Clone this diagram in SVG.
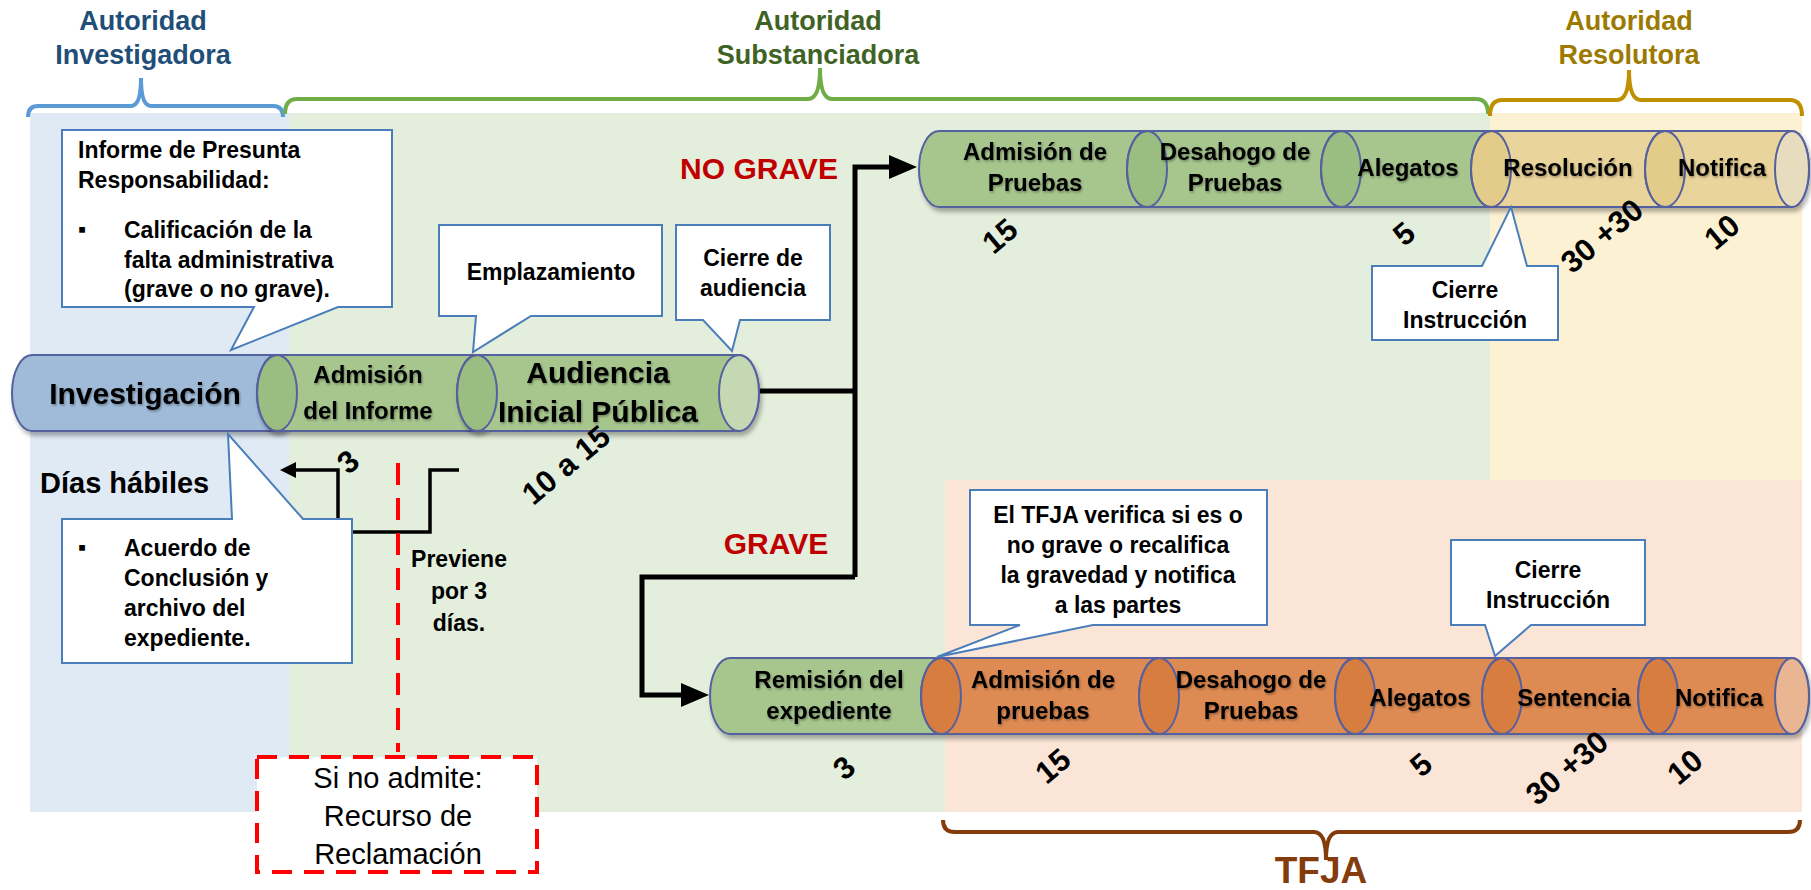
<svg xmlns="http://www.w3.org/2000/svg" width="1811" height="890" viewBox="0 0 1811 890">
<defs>
<style>
text{font-family:"Liberation Sans",Arial,sans-serif;}
.b{font-weight:bold;fill:#000;}
.lbl{font-weight:bold;fill:#000;font-size:24px;text-anchor:middle;}
.big{font-weight:bold;fill:#000;font-size:30px;text-anchor:middle;}
.box{font-weight:bold;fill:#000;font-size:23px;}
.boxc{font-weight:bold;fill:#000;font-size:23px;text-anchor:middle;}
.num{font-weight:bold;fill:#000;font-size:31px;text-anchor:middle;dominant-baseline:central;}
.call{fill:#fff;stroke:#4a7ebb;stroke-width:2;}
.cyl{stroke:#55609f;stroke-width:2;}
.gB{fill:#a6c68e;}
.gE{fill:#7ea866;fill-opacity:.3;}
.yB{fill:#e9d49b;}
.yE{fill:#d6b763;fill-opacity:.3;}
.oB{fill:#de8b53;}
.oE{fill:#cc6a28;fill-opacity:.4;}
.con{fill:none;stroke:#000;stroke-width:5;}
.ttl{font-weight:bold;font-size:27px;text-anchor:middle;}
</style>
<filter id="sh" x="-5%" y="-20%" width="110%" height="150%">
<feDropShadow dx="2" dy="4" stdDeviation="2" flood-color="#000" flood-opacity="0.3"/>
</filter>
<filter id="tsh" x="-5%" y="-20%" width="110%" height="150%">
<feDropShadow dx="1" dy="1.5" stdDeviation="0.8" flood-color="#000" flood-opacity="0.35"/>
</filter>
<marker id="ah" markerUnits="userSpaceOnUse" markerWidth="28" markerHeight="24" viewBox="0 0 28 24" refX="4" refY="12" orient="auto">
<path d="M0,0 L28,12 L0,24 Z" fill="#000"/>
</marker>
<marker id="ahs" markerUnits="userSpaceOnUse" markerWidth="16" markerHeight="16" viewBox="0 0 16 16" refX="2" refY="8" orient="auto">
<path d="M0,0 L16,8 L0,16 Z" fill="#000"/>
</marker>
</defs>

<g id="backgrounds">
<rect x="30" y="113" width="259" height="699" fill="#e0eaf4"/>
<rect x="289" y="113" width="1201" height="699" fill="#e4eedc"/>
<rect x="1490" y="113" width="312" height="367" fill="#fdf1d4"/>
<rect x="945" y="480" width="857" height="332" fill="#fae5d7"/>
</g>

<g id="braces" fill="none" stroke-width="4">
<path d="M28,117 Q28,106 38,106 H131 Q141,106 141,78 Q141,106 151,106 H273 Q283,106 283,117" stroke="#5b9bd5"/>
<path d="M285,114 Q285,99 297,99 H808 Q820,99 820,68 Q820,99 832,99 H1476 Q1488,99 1488,114" stroke="#70ad47"/>
<path d="M1490,116 Q1490,100 1502,100 H1617 Q1629,100 1629,70 Q1629,100 1641,100 H1790 Q1802,100 1802,116" stroke="#bf9000"/>
<path d="M943,820 Q943,832 955,832 H1314 Q1326,832 1326,860 Q1326,832 1338,832 H1788 Q1800,832 1800,820" stroke="#843c0c"/>
</g>

<g id="titles">
<text class="ttl" x="143" y="30" fill="#1f4e79">Autoridad</text>
<text class="ttl" x="143" y="64" fill="#1f4e79">Investigadora</text>
<text class="ttl" x="818" y="30" fill="#3f6324">Autoridad</text>
<text class="ttl" x="818" y="64" fill="#3f6324">Substanciadora</text>
<text class="ttl" x="1629" y="30" fill="#9c7a00">Autoridad</text>
<text class="ttl" x="1629" y="64" fill="#9c7a00">Resolutora</text>
<text x="1321" y="883" font-size="37" font-weight="bold" fill="#843c0c" text-anchor="middle">TFJA</text>
</g>

<g id="connectors">
<path class="con" d="M759,391 H855"/>
<path class="con" d="M855,577 V167 H893" marker-end="url(#ah)"/>
<path class="con" d="M855,577 H642 V695 H685" marker-end="url(#ah)"/>
<path fill="none" stroke="#000" stroke-width="3.5" d="M459,470 H430 V532 H338 V470 H294" marker-end="url(#ahs)"/>
<path fill="none" stroke="#ff0000" stroke-width="4" stroke-dasharray="22 13" d="M398,463 V752"/>
</g>

<g id="n-investigacion" filter="url(#sh)">
<path class="cyl" fill="#9fbbd8" d="M32,355 H277 A20,38 0 0 1 277,431 H32 A20,38 0 0 1 32,355 Z"/>
</g>
<g id="n-admision-informe" filter="url(#sh)">
<path class="cyl gB" d="M277,355 H477 A20,38 0 0 1 477,431 H277 A20,38 0 0 1 277,355 Z"/>
<ellipse class="cyl gE" cx="277" cy="393" rx="20" ry="38"/>
</g>
<g id="n-audiencia" filter="url(#sh)">
<path class="cyl gB" d="M477,355 H739 A20,38 0 0 1 739,431 H477 A20,38 0 0 1 477,355 Z"/>
<ellipse class="cyl gE" cx="477" cy="393" rx="20" ry="38"/>
<ellipse class="cyl" fill="#c5d8b4" cx="739" cy="393" rx="20" ry="38"/>
</g>
<g id="labels-row1" filter="url(#tsh)">
<text class="big" x="145" y="404" font-size="31">Investigación</text>
<text class="lbl" x="368" y="383" font-size="26">Admisión</text>
<text class="lbl" x="368" y="419" font-size="26">del Informe</text>
<text class="big" x="598" y="383">Audiencia</text>
<text class="big" x="598" y="422">Inicial Pública</text>
</g>

<g id="n-nograve-row" filter="url(#sh)">
<path class="cyl gB" d="M939,131 H1147 A20,38 0 0 1 1147,207 H939 A20,38 0 0 1 939,131 Z"/>
<path class="cyl gB" d="M1147,131 H1341 A20,38 0 0 1 1341,207 H1147 A20,38 0 0 1 1147,131 Z"/>
<ellipse class="cyl gE" cx="1147" cy="169" rx="20" ry="38"/>
<path class="cyl gB" d="M1341,131 H1491 A20,38 0 0 1 1491,207 H1341 A20,38 0 0 1 1341,131 Z"/>
<ellipse class="cyl gE" cx="1341" cy="169" rx="20" ry="38"/>
<path class="cyl yB" d="M1491,131 H1665 A20,38 0 0 1 1665,207 H1491 A20,38 0 0 1 1491,131 Z"/>
<ellipse class="cyl yE" cx="1491" cy="169" rx="20" ry="38"/>
<path class="cyl yB" d="M1665,131 H1792 A17,38 0 0 1 1792,207 H1665 A20,38 0 0 1 1665,131 Z"/>
<ellipse class="cyl yE" cx="1665" cy="169" rx="20" ry="38"/>
<ellipse class="cyl" fill="#e8dcbf" cx="1792" cy="169" rx="17" ry="38"/>
</g>
<g id="labels-row2" filter="url(#tsh)">
<text class="lbl" x="1035" y="160">Admisión de</text>
<text class="lbl" x="1035" y="191">Pruebas</text>
<text class="lbl" x="1235" y="160">Desahogo de</text>
<text class="lbl" x="1235" y="191">Pruebas</text>
<text class="lbl" x="1408" y="176">Alegatos</text>
<text class="lbl" x="1568" y="176">Resolución</text>
<text class="lbl" x="1722" y="176">Notifica</text>
</g>

<g id="n-grave-row" filter="url(#sh)">
<path class="cyl gB" d="M730,658 H941 A20,38 0 0 1 941,734 H730 A20,38 0 0 1 730,658 Z"/>
<path class="cyl oB" d="M941,658 H1159 A20,38 0 0 1 1159,734 H941 A20,38 0 0 1 941,658 Z"/>
<ellipse class="cyl oE" cx="941" cy="696" rx="20" ry="38"/>
<path class="cyl oB" d="M1159,658 H1355 A20,38 0 0 1 1355,734 H1159 A20,38 0 0 1 1159,658 Z"/>
<ellipse class="cyl oE" cx="1159" cy="696" rx="20" ry="38"/>
<path class="cyl oB" d="M1355,658 H1502 A20,38 0 0 1 1502,734 H1355 A20,38 0 0 1 1355,658 Z"/>
<ellipse class="cyl oE" cx="1355" cy="696" rx="20" ry="38"/>
<path class="cyl oB" d="M1502,658 H1658 A20,38 0 0 1 1658,734 H1502 A20,38 0 0 1 1502,658 Z"/>
<ellipse class="cyl oE" cx="1502" cy="696" rx="20" ry="38"/>
<path class="cyl oB" d="M1658,658 H1792 A17,38 0 0 1 1792,734 H1658 A20,38 0 0 1 1658,658 Z"/>
<ellipse class="cyl oE" cx="1658" cy="696" rx="20" ry="38"/>
<ellipse class="cyl" fill="#eab592" cx="1792" cy="696" rx="17" ry="38"/>
</g>
<g id="labels-row3" filter="url(#tsh)">
<text class="lbl" x="829" y="688">Remisión del</text>
<text class="lbl" x="829" y="719">expediente</text>
<text class="lbl" x="1043" y="688">Admisión de</text>
<text class="lbl" x="1043" y="719">pruebas</text>
<text class="lbl" x="1251" y="688">Desahogo de</text>
<text class="lbl" x="1251" y="719">Pruebas</text>
<text class="lbl" x="1420" y="706">Alegatos</text>
<text class="lbl" x="1574" y="706">Sentencia</text>
<text class="lbl" x="1719" y="706">Notifica</text>
</g>

<g id="c-informe">
<path class="call" d="M62,130 H392 V307 H338 L231,350 L254,307 H62 Z"/>
<text class="box" x="78" y="158">Informe de Presunta</text>
<text class="box" x="78" y="188">Responsabilidad:</text>
<text class="box" x="78" y="237">▪</text>
<text class="box" x="124" y="238">Calificación de la</text>
<text class="box" x="124" y="268">falta administrativa</text>
<text class="box" x="124" y="297">(grave o no grave).</text>
</g>
<g id="c-emplazamiento">
<path class="call" d="M439,225 H662 V316 H531 L473,352 L476,316 H439 Z"/>
<text class="boxc" x="551" y="280" font-size="24">Emplazamiento</text>
</g>
<g id="c-cierre-audiencia">
<path class="call" d="M676,225 H830 V320 H740 L732,351 L703,320 H676 Z"/>
<text class="boxc" x="753" y="266">Cierre de</text>
<text class="boxc" x="753" y="296">audiencia</text>
</g>
<g id="c-acuerdo">
<path class="call" d="M62,519 H232 L228,434 L303,519 H352 V663 H62 Z"/>
<text class="box" x="78" y="555">▪</text>
<text class="box" x="124" y="556">Acuerdo de</text>
<text class="box" x="124" y="586">Conclusión y</text>
<text class="box" x="124" y="616">archivo del</text>
<text class="box" x="124" y="646">expediente.</text>
</g>
<g id="c-cierre-instr-1">
<path class="call" d="M1372,266 H1482 L1511,207 L1527,266 H1558 V340 H1372 Z"/>
<text class="boxc" x="1465" y="298">Cierre</text>
<text class="boxc" x="1465" y="328">Instrucción</text>
</g>
<g id="c-tfja-verifica">
<path class="call" d="M970,490 H1267 V625 H1093 L937,657 L1020,625 H970 Z"/>
<text class="boxc" x="1118" y="523">El TFJA verifica si es o</text>
<text class="boxc" x="1118" y="553">no grave o recalifica</text>
<text class="boxc" x="1118" y="583">la gravedad y notifica</text>
<text class="boxc" x="1118" y="613">a las partes</text>
</g>
<g id="c-cierre-instr-2">
<path class="call" d="M1451,540 H1645 V625 H1531 L1495,656 L1485,625 H1451 Z"/>
<text class="boxc" x="1548" y="578">Cierre</text>
<text class="boxc" x="1548" y="608">Instrucción</text>
</g>

<g id="n-reclamacion">
<rect x="257" y="757" width="280" height="115" fill="#fff" stroke="#ff0000" stroke-width="4" stroke-dasharray="20 12"/>
<text x="398" y="788" font-size="29" text-anchor="middle" fill="#000">Si no admite:</text>
<text x="398" y="826" font-size="29" text-anchor="middle" fill="#000">Recurso de</text>
<text x="398" y="864" font-size="29" text-anchor="middle" fill="#000">Reclamación</text>
</g>

<g id="free-labels">
<text class="b" x="40" y="493" font-size="29">Días hábiles</text>
<text class="boxc" x="459" y="567" font-size="26">Previene</text>
<text class="boxc" x="459" y="599" font-size="26">por 3</text>
<text class="boxc" x="459" y="631" font-size="26">días.</text>
<text x="759" y="179" font-size="30" font-weight="bold" fill="#c00000" text-anchor="middle">NO GRAVE</text>
<text x="776" y="554" font-size="30" font-weight="bold" fill="#c00000" text-anchor="middle">GRAVE</text>
</g>

<g id="day-counts">
<text class="num" x="348" y="462" transform="rotate(-40 348 462)">3</text>
<text class="num" x="566" y="465" transform="rotate(-40 566 465)">10 a 15</text>
<text class="num" x="1000" y="236" transform="rotate(-40 1000 236)">15</text>
<text class="num" x="1404" y="234" transform="rotate(-40 1404 234)">5</text>
<text class="num" x="1602" y="236" transform="rotate(-40 1602 236)">30 +30</text>
<text class="num" x="1722" y="232" transform="rotate(-40 1722 232)">10</text>
<text class="num" x="844" y="768" transform="rotate(-40 844 768)">3</text>
<text class="num" x="1053" y="766" transform="rotate(-40 1053 766)">15</text>
<text class="num" x="1421" y="765" transform="rotate(-40 1421 765)">5</text>
<text class="num" x="1567" y="768" transform="rotate(-40 1567 768)">30 +30</text>
<text class="num" x="1685" y="767" transform="rotate(-40 1685 767)">10</text>
</g>
</svg>
